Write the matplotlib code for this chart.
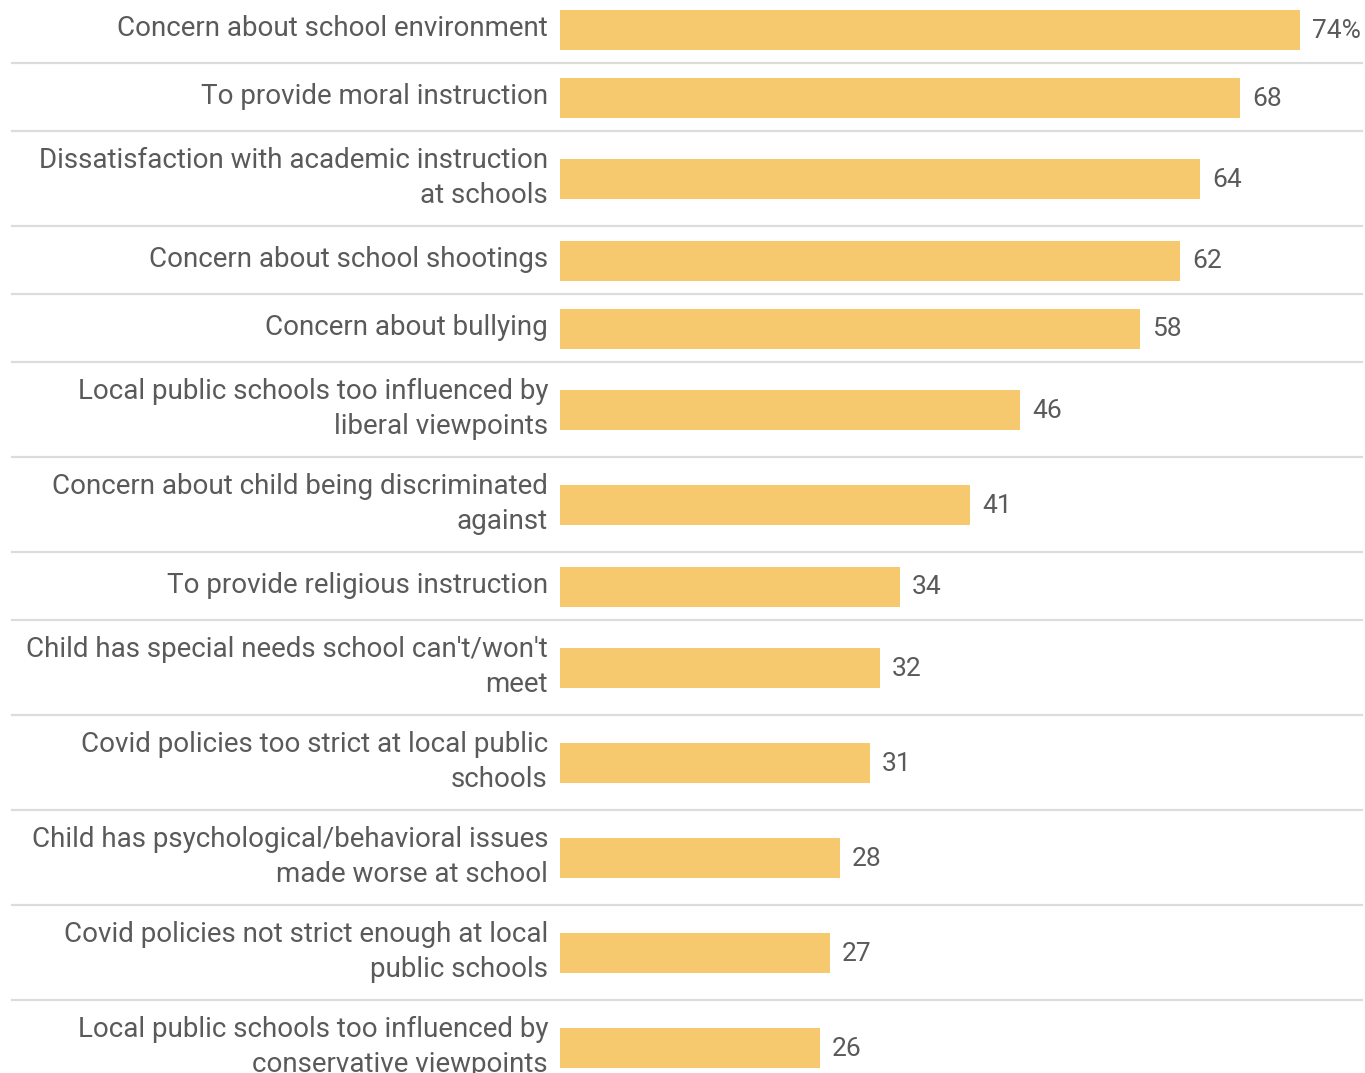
import matplotlib
matplotlib.use("Agg")
from matplotlib import pyplot as plt
import matplotlib.transforms as mtransforms

labels = [
    "Concern about school environment",
    "To provide moral instruction",
    "Dissatisfaction with academic instruction\nat schools",
    "Concern about school shootings",
    "Concern about bullying",
    "Local public schools too influenced by\nliberal viewpoints",
    "Concern about child being discriminated\nagainst",
    "To provide religious instruction",
    "Child has special needs school can't/won't\nmeet",
    "Covid policies too strict at local public\nschools",
    "Child has psychological/behavioral issues\nmade worse at school",
    "Covid policies not strict enough at local\npublic schools",
    "Local public schools too influenced by\nconservative viewpoints",
]
values = [74, 68, 64, 62, 58, 46, 41, 34, 32, 31, 28, 27, 26]

BAR_COLOR = "#f6c96f"
TEXT_COLOR = "#5a5a5a"
LINE_COLOR = "#dcdcdc"

plt.rcParams["font.family"] = ["Roboto", "DejaVu Sans"]

W, H = 1365, 1073
fig = plt.figure(figsize=(W / 100, H / 100), dpi=100)
ax = fig.add_axes([560 / W, 0, 805 / W, 1])
ax.set_xlim(0, 80.5)
ax.set_ylim(1078, 5)
ax.axis("off")

# row layout: one-line rows are shorter than two-line rows
centers = []
bounds = []
top = 0
for lab in labels:
    h = 95 if "\n" in lab else 68
    centers.append(top + h / 2 + 0.5)
    top += h
    bounds.append(top)

ax.barh(centers, values, height=40, color=BAR_COLOR)

for i, (lab, v, c) in enumerate(zip(labels, values, centers)):
    ax.annotate(lab, xy=(0, c), xytext=(-12, 1), textcoords="offset pixels",
                ha="right", va="center", multialignment="right",
                fontsize=20, color=TEXT_COLOR, linespacing=1.37)
    txt = "%d%%" % v if i == 0 else "%d" % v
    ax.annotate(txt, xy=(v, c), xytext=(12, -1), textcoords="offset pixels",
                ha="left", va="center", fontsize=19, color=TEXT_COLOR)

trans = mtransforms.blended_transform_factory(ax.transAxes, ax.transData)
x0 = (12 - 560) / 805
x1 = (1362 - 560) / 805
for b in bounds[:-1]:
    ax.plot([x0, x1], [b, b], transform=trans, color=LINE_COLOR,
            linewidth=1.6, clip_on=False)

fig.savefig("out.png", dpi=100)
